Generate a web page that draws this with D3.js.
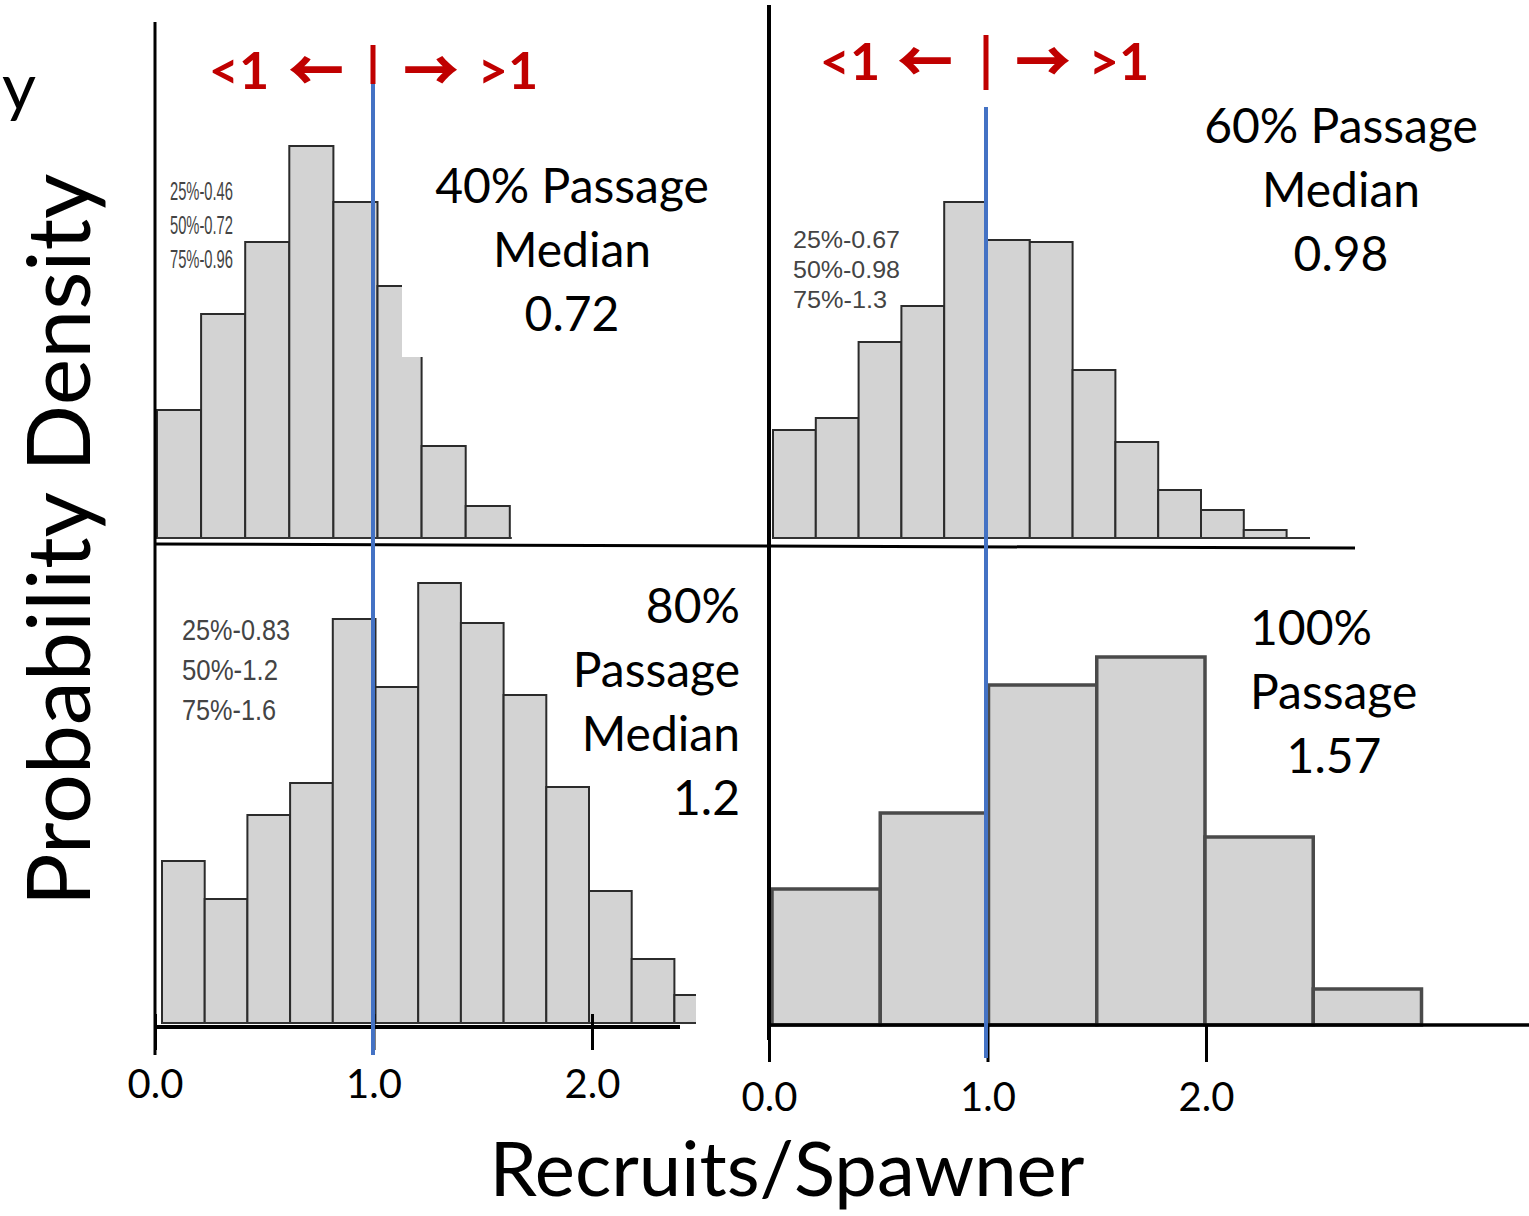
<!DOCTYPE html>
<html>
<head>
<meta charset="utf-8">
<script src="https://cdn.jsdelivr.net/npm/d3@7"></script>
<style>
  body { margin: 0; background: #fff; }
  svg { display: block; }
</style>
</head>
<body>
<script>
// histogram densities (relative units, one per bin)
const tlDensity = [0.32, 0.56, 0.74, 0.98, 0.84, 0.63, 0.23, 0.08];
const trDensity = [0.27, 0.30, 0.49, 0.58, 0.84, 0.745, 0.74, 0.42, 0.24, 0.12, 0.07, 0.02];
const blDensity = [0.405, 0.31, 0.52, 0.60, 1.01, 0.84, 1.10, 1.00, 0.82, 0.59, 0.33, 0.16, 0.07];
const brDensity = [0.34, 0.53, 0.85, 0.92, 0.47, 0.09];
const binWidths = [0.2, 0.2, 0.2, 0.5];

const passageLabels = [
  ["40% Passage", "Median", "0.72"],
  ["60% Passage", "Median", "0.98"],
  ["80%", "Passage", "Median", "1.2"],
  ["100%", "Passage", "1.57"]
];
const quantileLabels = [
  ["25%-0.46", "50%-0.72", "75%-0.96"],
  ["25%-0.67", "50%-0.98", "75%-1.3"],
  ["25%-0.83", "50%-1.2", "75%-1.6"],
  []
];
const tickValues = [0, 1, 2];
const tickLabels = ["0.0", "1.0", "2.0"];
const arrowParts = ["<1", "\u2190", "\u2192", ">1"];

const width = 1529, height = 1216;
const calibri = "Lato, 'Open Sans', sans-serif";
const red = "#C00000", blue = "#4472C4";

const svg = d3.select("body").append("svg")
  .attr("width", width)
  .attr("height", height);

// panel layout: pixel of 0 and 2 on each histogram, baseline, clip edge
const panels = [
  {data: tlDensity, x0: 157, x2: 598, base: 538, clipR: 760},
  {data: trDensity, x0: 773, x2: 1201, base: 538, clipR: 1529},
  {data: blDensity, x0: 162, x2: 589, base: 1023, clipR: 696},
  {data: brDensity, x0: 772, x2: 1205, base: 1025, clipR: 1529}
];

const defs = svg.append("defs");

panels.forEach((p, i) => {
  const x = d3.scaleLinear().domain([0, 2]).range([p.x0, p.x2]);
  const y = d3.scaleLinear().domain([0, 1]).range([p.base, p.base - 400]);
  const bw = binWidths[i];

  defs.append("clipPath").attr("id", "clip" + i)
    .append("rect").attr("x", 0).attr("y", 0)
    .attr("width", p.clipR).attr("height", height);

  const g = svg.append("g").attr("clip-path", `url(#clip${i})`);
  const heavy = i === 3;

  g.selectAll("rect.bar")
    .data(p.data)
    .enter()
    .append("rect")
      .attr("class", "bar")
      .attr("x", (d, k) => x(k * bw))
      .attr("width", x(bw) - x(0))
      .attr("y", d => y(d))
      .attr("height", d => y(0) - y(d))
      .attr("fill", "#D3D3D3")
      .attr("stroke", heavy ? "#4a4a4a" : "#2b2b2b")
      .attr("stroke-width", heavy ? 3.5 : 2);

  // thin baseline under the bars
  g.append("line")
    .attr("x1", x(0)).attr("x2", i === 1 ? 1310 : x(p.data.length * bw) + 2)
    .attr("y1", p.base).attr("y2", p.base)
    .attr("stroke", "#333").attr("stroke-width", 2);

  // quantile notes
  const qx = [170, 793, 182][i];
  const qy = [200, 248, 640][i];
  const qstep = [34, 30, 40][i];
  const qsize = [25, 24, 29][i];
  const qlen = [[63, 63, 63], [107, 107, 94], [108, 96, 94]][i];
  quantileLabels[i].forEach((t, k) => {
    svg.append("text")
      .attr("x", qx).attr("y", qy + k * qstep)
      .attr("font-family", "'Liberation Sans', Arial, sans-serif")
      .attr("font-size", qsize)
      .attr("fill", "#444")
      .attr("textLength", qlen[k])
      .attr("lengthAdjust", "spacingAndGlyphs")
      .text(t);
  });
});

// text box background of the 40% label hides part of the bars
svg.append("rect")
  .attr("x", 402).attr("y", 150)
  .attr("width", 318).attr("height", 207)
  .attr("fill", "#fff");

// axis frame lines
svg.append("line").attr("x1", 155).attr("x2", 155).attr("y1", 22).attr("y2", 1055)
  .attr("stroke", "#000").attr("stroke-width", 3);
svg.append("line").attr("x1", 769).attr("x2", 769).attr("y1", 5).attr("y2", 1040)
  .attr("stroke", "#000").attr("stroke-width", 4);
svg.append("line").attr("x1", 155).attr("x2", 1355).attr("y1", 544).attr("y2", 548)
  .attr("stroke", "#000").attr("stroke-width", 3);
svg.append("line").attr("x1", 155).attr("x2", 680).attr("y1", 1027).attr("y2", 1027)
  .attr("stroke", "#000").attr("stroke-width", 4);
svg.append("line").attr("x1", 769).attr("x2", 1529).attr("y1", 1025).attr("y2", 1025)
  .attr("stroke", "#000").attr("stroke-width", 3.5);

// bottom axes
const axes = [
  {range: [155, 592], top: 1014, size: 36, pad: 20},
  {range: [769, 1206], top: 1025, size: 37, pad: 21}
];
axes.forEach(a => {
  const s = d3.scaleLinear().domain([0, 2]).range(a.range);
  const ax = svg.append("g")
    .attr("transform", `translate(0,${a.top})`)
    .call(d3.axisBottom(s)
      .tickValues(tickValues)
      .tickFormat((d, k) => tickLabels[k])
      .tickSize(a.size)
      .tickPadding(a.pad));
  ax.select(".domain").remove();
  ax.selectAll(".tick line").attr("stroke", "#000").attr("stroke-width", 3);
  ax.selectAll(".tick text")
    .attr("font-family", calibri)
    .attr("font-size", 40)
    .attr("fill", "#000");
});

// reference lines at 1.0
svg.append("line").attr("x1", 373).attr("x2", 373).attr("y1", 84).attr("y2", 1055)
  .attr("stroke", blue).attr("stroke-width", 4);
svg.append("line").attr("x1", 986).attr("x2", 986).attr("y1", 107).attr("y2", 1058)
  .attr("stroke", blue).attr("stroke-width", 4);

// red direction markers
const markers = [
  {cx: 373, base: 89, barTop: 45, barBot: 84, pos: [239, 316, 431, 508]},
  {cx: 986, base: 80, barTop: 35, barBot: 90, pos: [850, 925, 1043, 1119]}
];
markers.forEach(m => {
  arrowParts.forEach((t, k) => {
    const isArrow = k === 1 || k === 2;
    svg.append("text")
      .attr("x", m.pos[k]).attr("y", isArrow ? m.base + 2 : m.base)
      .attr("text-anchor", "middle")
      .attr("font-family", isArrow ? "'Noto Sans CJK SC', 'DejaVu Sans', sans-serif" : calibri)
      .attr("font-weight", isArrow ? 900 : 700)
      .attr("font-size", isArrow ? 56 : 52)
      .attr("fill", red)
      .text(t);
  });
  svg.append("line")
    .attr("x1", m.cx).attr("x2", m.cx)
    .attr("y1", m.barTop).attr("y2", m.barBot)
    .attr("stroke", red).attr("stroke-width", 5);
});

// passage labels
const labelPos = [
  {x: 572, y: 203, anchor: "middle"},
  {x: 1341, y: 143, anchor: "middle"},
  {x: 740, y: 623, anchor: "end"},
  {x: 1250, y: 645, anchor: "start"}
];
passageLabels.forEach((lines, i) => {
  const lp = labelPos[i];
  lines.forEach((t, k) => {
    let x = lp.x, anchor = lp.anchor;
    if (i === 3 && k === 2) { x = 1334; anchor = "middle"; }
    svg.append("text")
      .attr("x", x).attr("y", lp.y + k * 64)
      .attr("text-anchor", anchor)
      .attr("font-family", calibri)
      .attr("font-size", 48)
      .attr("fill", "#000")
      .text(t);
  });
});

// axis titles
svg.append("text")
  .attr("transform", "translate(90,540) rotate(-90)")
  .attr("text-anchor", "middle")
  .attr("font-family", calibri)
  .attr("font-size", 88)
  .attr("fill", "#000")
  .text("Probability Density");

svg.append("text")
  .attr("x", 2).attr("y", 110)
  .attr("font-family", calibri)
  .attr("font-size", 66)
  .attr("fill", "#000")
  .text("y");

svg.append("text")
  .attr("x", 787).attr("y", 1196)
  .attr("text-anchor", "middle")
  .attr("font-family", calibri)
  .attr("font-size", 76)
  .attr("fill", "#000")
  .text("Recruits/Spawner");
</script>
</body>
</html>
